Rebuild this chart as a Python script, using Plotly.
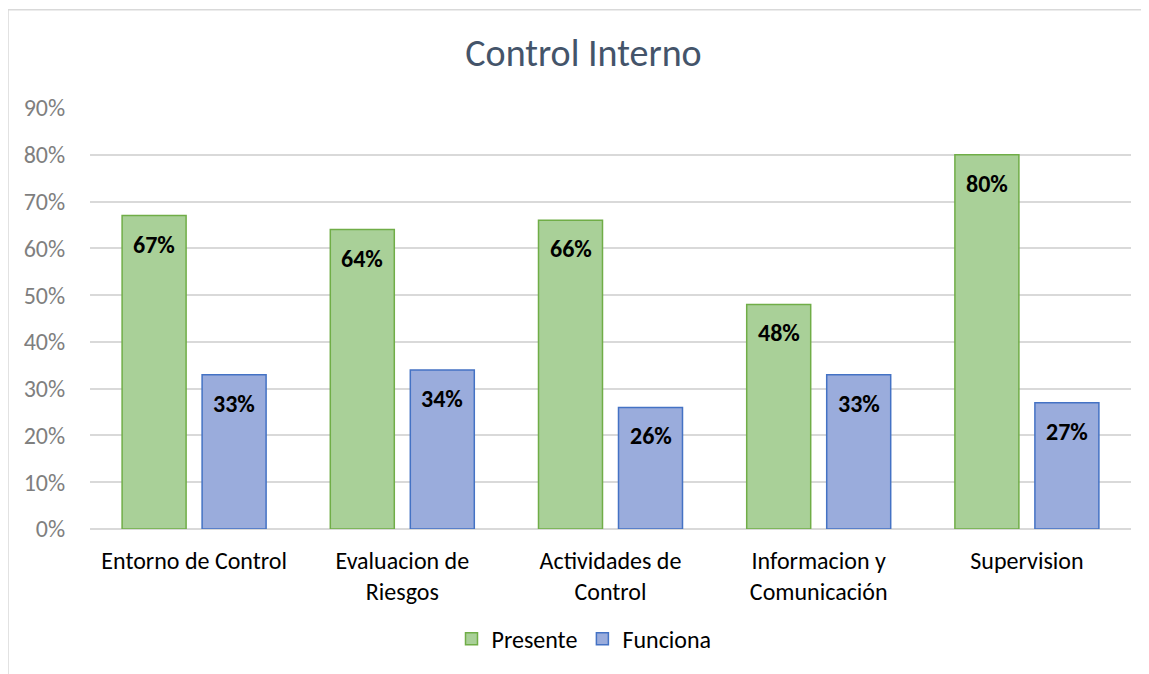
import plotly.graph_objects as go

categories = ["Entorno de Control", "Evaluacion de<br>Riesgos", "Actividades de<br>Control",
              "Informacion y<br>Comunicación", "Supervision"]
presente = [0.67, 0.64, 0.66, 0.48, 0.80]
funciona = [0.33, 0.34, 0.26, 0.33, 0.27]
series_names = ["Presente", "Funciona"]
y_ticks = [0, 0.1, 0.2, 0.3, 0.4, 0.5, 0.6, 0.7, 0.8, 0.9]
y_tick_labels = ["0%", "10%", "20%", "30%", "40%", "50%", "60%", "70%", "80%", "90%"]

FONT = "Calibri, Carlito, Lato, sans-serif"
OFF = 8  # page body margin
W, H = 1149 - OFF, 674 - OFF
L, R, T, B = 90 - OFF, 18, 108 - OFF, 142
pw, ph = W - L - R, H - T - B

def px_x(p):
    return (p - OFF - L) / pw

def px_y(p):
    return (H - B - (p - OFF)) / ph

fig = go.Figure()
fig.add_trace(go.Bar(
    x=categories, y=presente, name=series_names[0],
    marker=dict(color="#a9d098", line=dict(color="#70ad47", width=1.5)),
    hoverinfo="skip",
))
fig.add_trace(go.Bar(
    x=categories, y=funciona, name=series_names[1],
    marker=dict(color="#9aacdc", line=dict(color="#4472c4", width=1.5)),
    hoverinfo="skip",
))

annotations = []
for vals, shift in ((presente, -40), (funciona, 40)):
    for c, v in zip(categories, vals):
        annotations.append(dict(
            x=c, y=v, xref="x", yref="y", text=f"{round(v*100)}%", showarrow=False,
            xshift=shift, yshift=-12, yanchor="top", xanchor="center",
            font=dict(family=FONT, size=24, color="#000000", weight="bold"),
        ))

fig.update_layout(
    width=W, height=H,
    margin=dict(l=L, r=R, t=T, b=B, pad=0),
    paper_bgcolor="white", plot_bgcolor="white",
    barmode="group", bargap=0.2315, bargroupgap=0.2,
    title=dict(text="Control Interno", x=px_x(583.5), xref="paper", xanchor="center",
               y=1 - (53 - OFF) / H, yanchor="middle",
               font=dict(family=FONT, size=38, color="#44546a")),
    xaxis=dict(showgrid=False, showline=False, zeroline=False,
               ticks="outside", ticklen=10, tickcolor="rgba(0,0,0,0)",
               tickfont=dict(family=FONT, size=24, color="#000000")),
    yaxis=dict(range=[0, 0.9], tickvals=y_ticks, ticktext=y_tick_labels,
               showgrid=True, gridcolor="#d9d9d9", gridwidth=1.5,
               zeroline=True, zerolinecolor="#d9d9d9", zerolinewidth=1.5,
               showline=False, ticks="outside", ticklen=19, tickcolor="rgba(0,0,0,0)",
               tickfont=dict(family=FONT, size=24, color="#7f7f7f")),
    legend=dict(orientation="h", x=px_x(584), xanchor="center", y=px_y(643), yanchor="middle",
                font=dict(family=FONT, size=24, color="#000000"), itemwidth=30,
                traceorder="normal"),
    annotations=annotations,
    shapes=[dict(type="rect", xref="paper", yref="paper",
                 x0=px_x(8), x1=px_x(1170), y0=px_y(700), y1=px_y(9),
                 line=dict(color="#d9d9d9", width=1.5), fillcolor="rgba(0,0,0,0)", layer="below")],
)

fig.write_html("out.html")
